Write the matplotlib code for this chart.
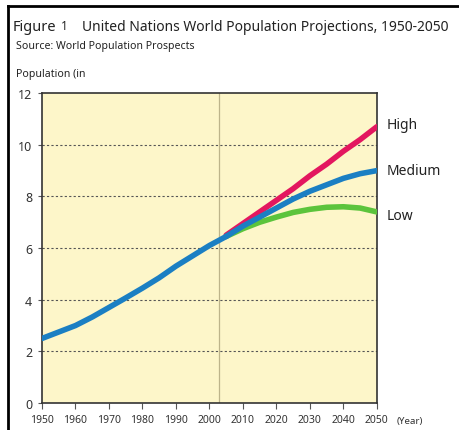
import matplotlib
matplotlib.use("Agg")
import matplotlib.pyplot as plt
from matplotlib.lines import Line2D

plt.rcParams['font.family'] = ['Noto Sans', 'DejaVu Sans']

# historical estimates (billions)
hist_years = [1950, 1955, 1960, 1965, 1970, 1975, 1980, 1985, 1990, 1995, 2000, 2005]
hist_pop = [2.5, 2.75, 3.0, 3.33, 3.7, 4.07, 4.45, 4.85, 5.3, 5.7, 6.1, 6.45]

# projections
proj_years = [2005, 2010, 2015, 2020, 2025, 2030, 2035, 2040, 2045, 2050]
high = [6.5, 6.95, 7.4, 7.85, 8.3, 8.8, 9.25, 9.75, 10.2, 10.7]
medium = [6.45, 6.85, 7.2, 7.55, 7.9, 8.2, 8.45, 8.7, 8.88, 9.0]
low = [6.45, 6.75, 7.0, 7.2, 7.38, 7.5, 7.58, 7.6, 7.55, 7.4]

year_ticks = list(range(1950, 2051, 10))
pop_ticks = [0, 2, 4, 6, 8, 10, 12]

fig = plt.figure(figsize=(4.6, 4.31), dpi=100)
ax = fig.add_axes([0.0913, 0.0626, 0.728, 0.719])
ax.set_facecolor('#fdf6c9')

for y in pop_ticks[1:-1]:
    ax.axhline(y, color='#555555', linestyle=(0, (2, 2)), linewidth=0.8, zorder=1)
ax.axvline(2003, color='#bdb48a', linewidth=0.9, zorder=1)

lw = 4
ax.plot(proj_years, high, color='#e3175f', linewidth=lw, solid_capstyle='round', zorder=3)
ax.plot(proj_years, low, color='#5cc43c', linewidth=lw, solid_capstyle='round', zorder=4)
ax.plot(proj_years, medium, color='#1b7fc3', linewidth=lw, solid_capstyle='round', zorder=5)
ax.plot(hist_years, hist_pop, color='#1b7fc3', linewidth=lw, solid_capstyle='round', zorder=5)

ax.set_xlim(1950, 2050)
ax.set_ylim(0, 12)
ax.set_xticks(year_ticks)
ax.set_yticks(pop_ticks)
ax.tick_params(axis='x', labelsize=7.5, length=4, color='#555555', labelcolor='#333333', pad=4)
ax.tick_params(axis='y', labelsize=9, length=3, color='#555555', labelcolor='#333333', pad=4)
for s in ax.spines.values():
    s.set_color('#333333')
    s.set_linewidth(1.2)

for label, val, dy in [('High', high[-1], 0.1), ('Medium', medium[-1], 0.0), ('Low', low[-1], -0.15)]:
    ax.text(2053, val + dy, label, fontsize=10, color='#222222', va='center', ha='left', clip_on=False)
ax.text(2056, -0.66, '(Year)', fontsize=7, color='#333333', va='center', ha='left', clip_on=False)

fig.text(0.028, 0.937, 'Figure', fontsize=10.5, color='#222222', va='center')
fig.text(0.133, 0.939, '1', fontsize=8.5, color='#222222', va='center')
fig.text(0.178, 0.937, 'United Nations World Population Projections, 1950-2050',
         fontsize=10, color='#222222', va='center')
fig.text(0.035, 0.893, 'Source: World Population Prospects', fontsize=7.6, color='#222222', va='center')
fig.text(0.035, 0.826, 'Population (in', fontsize=7.6, color='#222222', va='center')

# page frame (left and top)
fig.add_artist(Line2D([0.018, 0.018], [0.0, 0.984], color='black', linewidth=2))
fig.add_artist(Line2D([0.018, 1.0], [0.984, 0.984], color='black', linewidth=2))

fig.savefig('out.png', dpi=100)
